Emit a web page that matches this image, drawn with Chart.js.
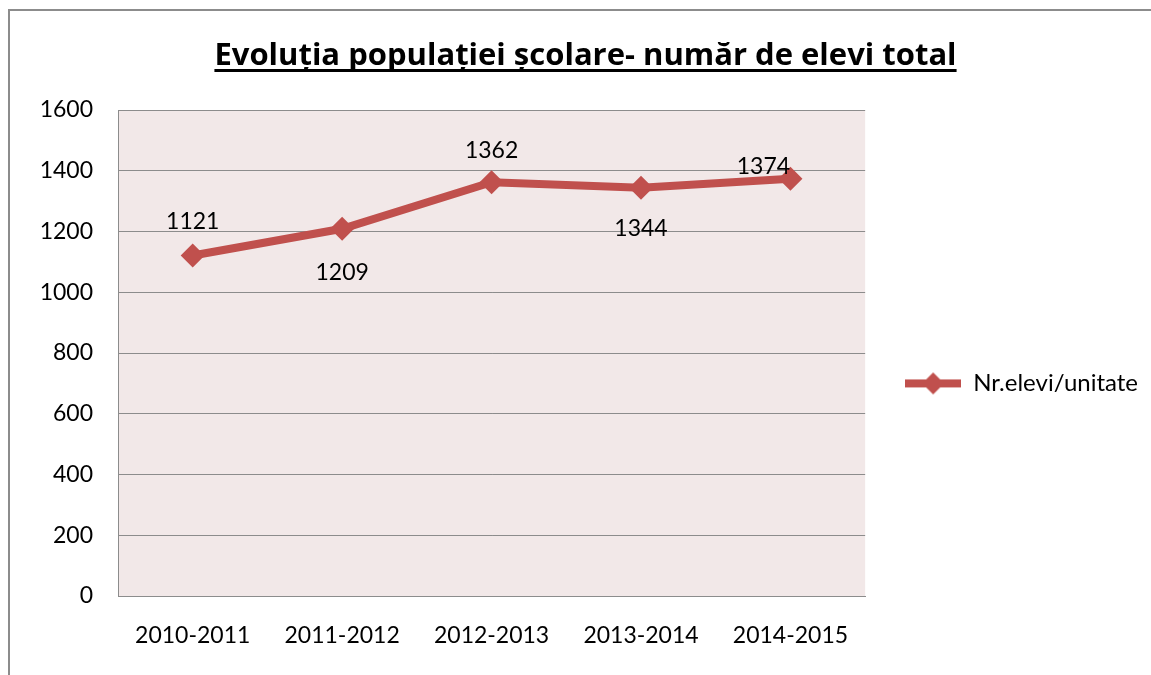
<!DOCTYPE html>
<html>
<head>
<meta charset="utf-8">
<script src="https://cdn.jsdelivr.net/npm/chart.js@4.4.1/dist/chart.umd.min.js"></script>
<style>
    html, body { margin: 0; padding: 0; background: #fff; }
    #wrap { position: relative; width: 1151px; height: 675px; }
</style>
</head>
<body>
<div id="wrap"><canvas id="lineChart" width="1151" height="675"></canvas></div>
<script>
// date din grafic
const chartTitle = 'Evoluția populației școlare- număr de elevi total';
const categories = ['2010-2011', '2011-2012', '2012-2013', '2013-2014', '2014-2015'];
const seriesLabel = 'Nr.elevi/unitate';
const seriesValues = [1121, 1209, 1362, 1344, 1374];
const yMin = 0;
const yMax = 1600;
const yStep = 200;

const lineColor = '#C0504D';
const fontFamily = 'Lato, "Open Sans", sans-serif';

// simbolul din legenda: linie + romb
function legendSymbol() {
    const c = document.createElement('canvas');
    c.width = 56; c.height = 26;
    const g = c.getContext('2d');
    g.strokeStyle = lineColor;
    g.lineWidth = 8;
    g.beginPath(); g.moveTo(0, 13); g.lineTo(56, 13); g.stroke();
    g.fillStyle = lineColor;
    g.beginPath();
    g.moveTo(28, 2); g.lineTo(39, 13); g.lineTo(28, 24); g.lineTo(17, 13);
    g.closePath(); g.fill();
    return c;
}

// fundal zona grafic + chenar exterior
const backgroundPlugin = {
    id: 'plotBackground',
    beforeDraw(chart) {
        const { ctx, chartArea: a } = chart;
        ctx.save();
        ctx.strokeStyle = '#8c8c8c';
        ctx.lineWidth = 2;
        ctx.strokeRect(9, 10, chart.width + 20, chart.height + 20);
        ctx.fillStyle = '#F2E8E8';
        ctx.fillRect(a.left, a.top, a.right - a.left, a.bottom - a.top);
        ctx.restore();
    }
};

// titlul, subliniat (centrat pe chenarul exterior)
const titlePlugin = {
    id: 'underlinedTitle',
    afterDraw(chart, args, opts) {
        const { ctx } = chart;
        ctx.save();
        ctx.font = 'bold 31px "Open Sans", Lato, sans-serif';
        ctx.fillStyle = '#000';
        ctx.textAlign = 'center';
        ctx.textBaseline = 'alphabetic';
        const cx = chart.width / 2 + 10;
        ctx.fillText(opts.text, cx, opts.baseline);
        const w = ctx.measureText(opts.text).width;
        ctx.fillRect(cx - w / 2, opts.baseline + 4, w, 3);
        ctx.restore();
    }
};

// etichete de valori
const dataLabelPlugin = {
    id: 'valueLabels',
    afterDatasetsDraw(chart, args, opts) {
        const { ctx } = chart;
        const meta = chart.getDatasetMeta(0);
        ctx.save();
        ctx.font = '23px ' + fontFamily;
        ctx.fillStyle = '#000';
        ctx.textAlign = 'center';
        ctx.textBaseline = 'middle';
        meta.data.forEach((pt, i) => {
            const off = opts.offsets[i] || [0, -30];
            ctx.fillText(String(seriesValues[i]), pt.x + off[0], pt.y + off[1]);
        });
        ctx.restore();
    }
};

const ctx = document.getElementById('lineChart').getContext('2d');
const lineChart = new Chart(ctx, {
    type: 'line',
    data: {
        labels: categories,
        datasets: [{
            label: seriesLabel,
            data: seriesValues,
            borderColor: lineColor,
            backgroundColor: lineColor,
            borderWidth: 8,
            pointStyle: 'rectRot',
            pointRadius: 12,
            pointHoverRadius: 12,
            pointBackgroundColor: lineColor,
            pointBorderWidth: 0,
            tension: 0
        }]
    },
    options: {
        responsive: false,
        animation: false,
        layout: { padding: { left: 0, right: 3, top: 110, bottom: 0 } },
        scales: {
            x: {
                offset: true,
                grid: { display: false, drawTicks: false },
                border: { display: true, color: '#8c8c8c', width: 1 },
                ticks: { color: '#000', font: { family: fontFamily, size: 23 }, padding: 26, maxRotation: 0 },
                afterFit(scale) { scale.height = 79; }
            },
            y: {
                min: yMin,
                max: yMax,
                ticks: {
                    stepSize: yStep, color: '#000', font: { family: fontFamily, size: 23 }, padding: 25,
                    callback: (v) => String(v)
                },
                grid: { color: '#8c8c8c', lineWidth: 1, drawTicks: false },
                border: { display: true, color: '#8c8c8c', width: 1 },
                afterFit(scale) { scale.width = 118; }
            }
        },
        plugins: {
            title: { display: false },
            underlinedTitle: { text: chartTitle, baseline: 65 },
            legend: {
                display: true,
                position: 'right',
                align: 'start',
                title: { display: true, text: ' ', font: { size: 12, lineHeight: 1.2 }, padding: { top: 207, bottom: 0 } },
                labels: {
                    usePointStyle: true,
                    pointStyleWidth: 56,
                    padding: 40,
                    color: '#000',
                    font: { family: fontFamily, size: 24 },
                    generateLabels(chart) {
                        return [{
                            text: seriesLabel,
                            pointStyle: legendSymbol(),
                            fillStyle: lineColor,
                            strokeStyle: lineColor,
                            lineWidth: 0,
                            datasetIndex: 0,
                            fontColor: '#000'
                        }];
                    }
                }
            },
            tooltip: { enabled: false },
            valueLabels: {
                offsets: [[0, -34], [0, 44], [0, -32], [0, 41], [-27, -12]]
            }
        }
    },
    plugins: [backgroundPlugin, titlePlugin, dataLabelPlugin]
});
</script>
</body>
</html>
